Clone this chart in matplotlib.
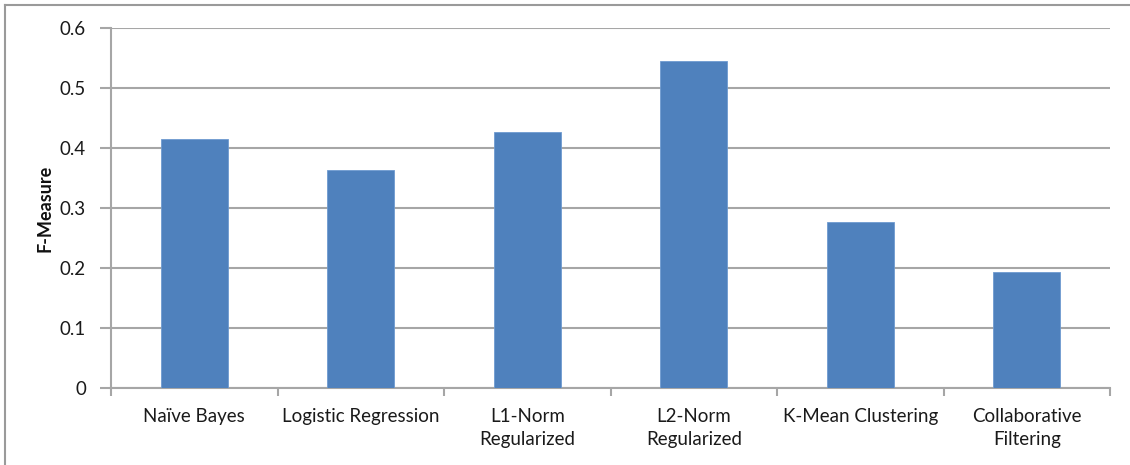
import matplotlib
matplotlib.use("Agg")
import matplotlib.pyplot as plt
from matplotlib.lines import Line2D

categories = ["Naïve Bayes", "Logistic Regression", "L1-Norm\nRegularized",
              "L2-Norm\nRegularized", "K-Mean Clustering", "Collaborative\nFiltering"]
f_measure = [0.414, 0.363, 0.427, 0.545, 0.277, 0.193]
y_ticks = [0, 0.1, 0.2, 0.3, 0.4, 0.5, 0.6]
y_tick_labels = ["0", "0.1", "0.2", "0.3", "0.4", "0.5", "0.6"]

plt.rcParams["font.family"] = ["Lato", "DejaVu Sans"]

W, H = 1130, 465
fig = plt.figure(figsize=(W / 100, H / 100), dpi=100)
ax = fig.add_axes([111 / W, 1 - 387.5 / H, (1110 - 111) / W, (387.5 - 28) / H])

grid_col = "#a6a6a6"
text_col = "#1a1a1a"
x = list(range(len(categories)))
ax.bar(x, f_measure, width=0.4, color="#4F81BD", edgecolor="#6f9bd0",
       linewidth=0.6, zorder=3)

ax.set_xlim(-0.5, len(categories) - 0.5)
ax.set_ylim(0, 0.6)
ax.set_yticks(y_ticks)
ax.set_yticklabels(y_tick_labels, fontsize=13.5, color=text_col)
ax.yaxis.grid(True, color=grid_col, linewidth=1.5, zorder=0)

# category labels centred under each bar, boundary ticks between categories
ax.set_xticks(x)
ax.set_xticklabels(categories, fontsize=13.5, color=text_col, linespacing=1.4)
ax.tick_params(axis="x", length=0, pad=15)
ax.set_xticks([i - 0.5 for i in range(len(categories) + 1)], minor=True)
ax.tick_params(axis="x", which="minor", length=6, width=1.5, color=grid_col)
ax.tick_params(axis="y", length=8, width=1.5, color=grid_col, pad=10)

for s in ["top", "right"]:
    ax.spines[s].set_visible(False)
for s in ["left", "bottom"]:
    ax.spines[s].set_color(grid_col)
    ax.spines[s].set_linewidth(1.5)

fig.text(45 / W, 1 - 208 / H, "F-Measure", rotation=90, ha="center", va="center",
         fontsize=13, fontweight="bold", color="#111111")

# outer frame of the chart area
fig.add_artist(Line2D([5 / W, 5 / W], [0, 1 - 5 / H], color="#9a9a9a", linewidth=1.5,
                      transform=fig.transFigure))
fig.add_artist(Line2D([5 / W, 1], [1 - 5 / H, 1 - 5 / H], color="#9a9a9a", linewidth=1.5,
                      transform=fig.transFigure))

fig.savefig("out.png", dpi=100, facecolor="white")
